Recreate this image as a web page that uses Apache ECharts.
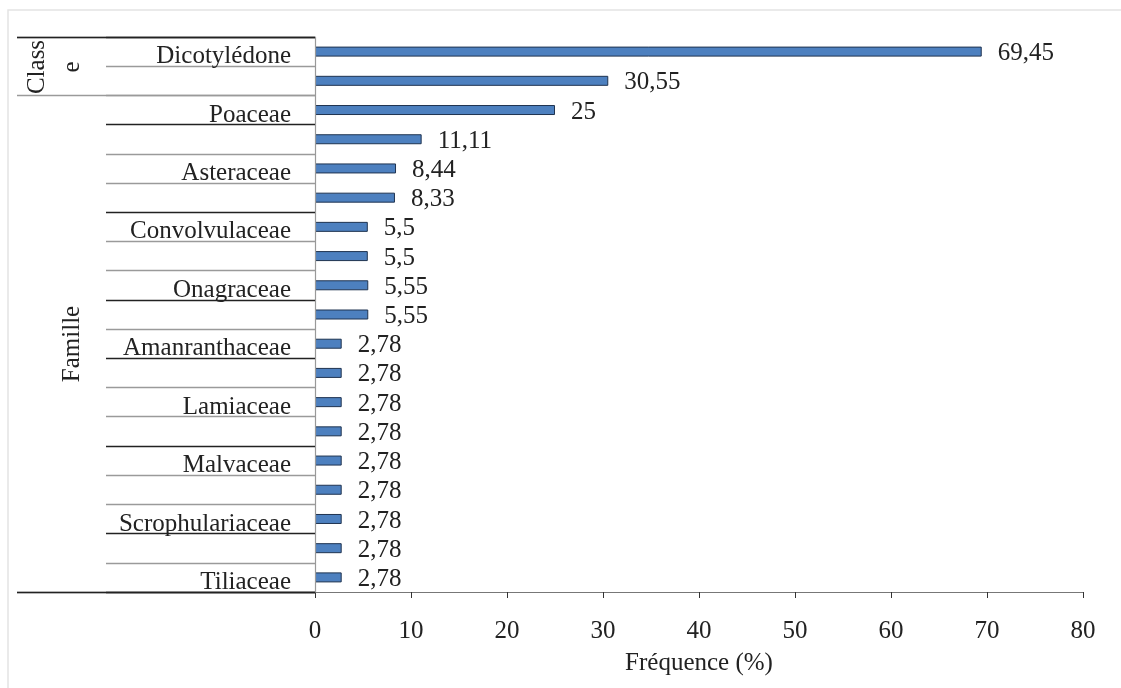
<!DOCTYPE html>
<html>
<head>
<meta charset="utf-8">
<script src="https://cdn.jsdelivr.net/npm/echarts@6/dist/echarts.min.js"></script>
<style>
  html, body { margin: 0; padding: 0; background: #fff; }
  #chart { width: 1121px; height: 688px; }
</style>
</head>
<body>
<div id="chart"></div>
<script>
// categories, top to bottom (every second row has no label in the figure)
const categories = [
  'Dicotylédone', '', 'Poaceae', '', 'Asteraceae', '', 'Convolvulaceae', '',
  'Onagraceae', '', 'Amanranthaceae', '', 'Lamiaceae', '', 'Malvaceae', '',
  'Scrophulariaceae', '', 'Tiliaceae'
]
const frequence = [
  69.45, 30.55, 25, 11.11, 8.44, 8.33, 5.5, 5.5, 5.55, 5.55,
  2.78, 2.78, 2.78, 2.78, 2.78, 2.78, 2.78, 2.78, 2.78
]
const xMin = 0
const xMax = 80
const xStep = 10

// row separators on the left (index = row below the line)
const darkRules = [0, 3, 6, 9, 11, 14, 17]
const lightRules = [1, 2, 4, 5, 7, 8, 10, 12, 13, 15, 16, 18]
const groupLightRules = [0, 2]
const groupDarkRules = [0]

const serif = 'Liberation Serif'
const fs = 25

function ruleAxis(rows, color, len, z) {
  return {
    type: 'category',
    position: 'left',
    inverse: true,
    data: categories,
    min: 0,
    max: categories.length - 1,
    z: z,
    axisLine: { show: false },
    axisLabel: { show: false },
    splitLine: { show: false },
    axisTick: {
      show: true,
      length: len,
      interval: function (i) { return rows.indexOf(i) >= 0 },
      lineStyle: { color: color, width: 1.3 }
    }
  }
}

const chart = echarts.init(document.getElementById('chart'))
chart.setOption({
  backgroundColor: '#fff',
  animation: false,
  grid: { left: 315, right: 38, top: 37, bottom: 96, outerBoundsMode: 'none' },
  graphic: [
    {
      type: 'rect', z: -10, silent: true,
      shape: { x: 8, y: 10, width: 1300, height: 900 },
      style: { fill: 'none', stroke: '#e4e4e4', lineWidth: 1.5 }
    },
    {
      type: 'text', x: 55, y: 67, rotation: Math.PI / 2,
      style: { text: 'Class\ne', font: fs + 'px "' + serif + '"', fill: '#222', align: 'center', verticalAlign: 'middle', lineHeight: 35 }
    },
    {
      type: 'text', x: 72, y: 344, rotation: Math.PI / 2,
      style: { text: 'Famille', font: fs + 'px "' + serif + '"', fill: '#222', align: 'center', verticalAlign: 'middle' }
    }
  ],
  xAxis: {
    type: 'value',
    min: xMin,
    max: xMax,
    interval: xStep,
    name: 'Fréquence (%)',
    nameLocation: 'middle',
    nameGap: 59,
    nameTextStyle: { fontFamily: serif, fontSize: fs, color: '#222' },
    axisLine: { show: true, lineStyle: { color: '#777', width: 1.2 } },
    axisTick: { show: true, length: 6, lineStyle: { color: '#333' } },
    axisLabel: { margin: 27, fontFamily: serif, fontSize: fs, color: '#222' },
    splitLine: { show: false }
  },
  yAxis: [
    {
      type: 'category',
      position: 'left',
      inverse: true,
      data: categories,
      z: 5,
      axisLine: { show: true, onZero: false, lineStyle: { color: '#999', width: 1.2 } },
      axisTick: {
        show: true,
        length: 209,
        interval: function (i) { return lightRules.indexOf(i) >= 0 },
        lineStyle: { color: '#9a9a9a', width: 1.3 }
      },
      axisLabel: {
        interval: 0,
        margin: 24,
        formatter: function (v) { return v ? '{n|' + v + '}' : '' },
        rich: {
          n: { fontFamily: serif, fontSize: fs, color: '#222', padding: [10, 0, 0, 0] }
        }
      },
      splitLine: { show: false }
    },
    ruleAxis(darkRules, '#222', 209, 6),
    ruleAxis(groupLightRules, '#9a9a9a', 298, 7),
    ruleAxis(groupDarkRules, '#222', 298, 8)
  ],
  series: [
    {
      type: 'bar',
      yAxisIndex: 0,
      data: frequence,
      barWidth: 10,
      itemStyle: { color: '#4d80bf', borderColor: '#1f3350', borderWidth: 1 },
      label: {
        show: true,
        position: 'right',
        distance: 16,
        offset: [0, 2],
        fontFamily: serif,
        fontSize: fs,
        color: '#222',
        formatter: function (p) { return String(p.value).replace('.', ',') }
      }
    }
  ]
})
</script>
</body>
</html>
